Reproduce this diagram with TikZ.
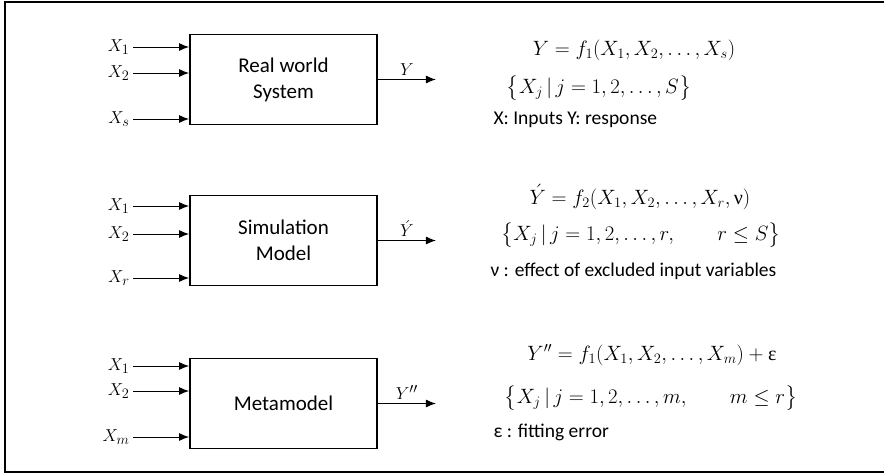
\documentclass[tikz,border=0pt]{standalone}
\usepackage{amsmath}
\usepackage[no-math]{fontspec}
\setmainfont{Carlito}
\newfontfamily\grkfont{Liberation Serif}
\usetikzlibrary{arrows.meta,positioning}
\newcommand{\grkv}{\text{\grkfont ν}}
\newcommand{\grke}{\text{\grkfont ε}}
\tikzset{
	sysbox/.style={draw, line width=1.8pt, minimum width=187pt, minimum height=90pt, align=center, font=\fontsize{21}{26}\selectfont},
	inlab/.style={anchor=east, inner sep=3pt, font=\fontsize{19}{22}\selectfont},
	eqn/.style={font=\fontsize{20}{24}\selectfont},
	note/.style={anchor=west, inner sep=0pt, font=\fontsize{19.5}{22}\selectfont},
}

\begin{document}
\begin{tikzpicture}[x=1pt, y=-1pt, >={Latex[length=10pt,width=8pt]}, line width=1pt]
		\clip (0,0) rectangle (884,474);
		%			\draw [help lines] (0,0) grid (884,474);
		\draw [line width=2.5pt] (890,2) -- (5,2) -- (5,472) -- (890,472);
		% the three blocks
		\node [sysbox] (real) at (283.5,79.5) {Real world\\System};
		\node [sysbox] (simu) at (283.5,240.5) {Simulation\\Model};
		\node [sysbox] (meta) at (283.5,403.5) {Metamodel};
		% inputs
		\node [inlab] (r1) at (133,47) {$X_1$};
		\node [inlab] (r2) at (133,73) {$X_2$};
		\node [inlab] (rs) at (133,119) {$X_s$};
		\node [inlab] (s1) at (133,206) {$X_1$};
		\node [inlab] (s2) at (133,234) {$X_2$};
		\node [inlab] (sr) at (133,278) {$X_r$};
		\node [inlab] (m1) at (133,366) {$X_1$};
		\node [inlab] (m2) at (133,391) {$X_2$};
		\node [inlab] (mm) at (133,437) {$X_m$};
		\draw [->] (r1) -- (r1 -| real.west);
		\draw [->] (r2) -- (r2 -| real.west);
		\draw [->] (rs) -- (rs -| real.west);
		\draw [->] (s1) -- (s1 -| simu.west);
		\draw [->] (s2) -- (s2 -| simu.west);
		\draw [->] (sr) -- (sr -| simu.west);
		\draw [->] (m1) -- (m1 -| meta.west);
		\draw [->] (m2) -- (m2 -| meta.west);
		\draw [->] (mm) -- (mm -| meta.west);
		% outputs
		\coordinate (ro) at ([xshift=58pt]real.east);
		\coordinate (so) at ([xshift=58pt]simu.east);
		\coordinate (mo) at ([xshift=58pt]meta.east);
		\draw [->] (real) -- (ro) node [pos=0.5, above, font=\fontsize{19}{22}\selectfont] {$Y$};
		\draw [->] (simu) -- (so) node [pos=0.5, above, font=\fontsize{19}{22}\selectfont] {$\acute{Y}$};
		\draw [->] (meta) -- (mo) node [pos=0.5, above, font=\fontsize{19}{22}\selectfont] {$Y''$};
		% relations
		\node [eqn] (eq1) at (634,50) {$Y = f_1(X_1, X_2, \ldots, X_s)$};
		\node [eqn] (set1) at (599,88) {$\bigl\{X_j \,|\, j = 1, 2, \ldots, S\bigr\}$};
		\node [note] (n1) at (493,120) {X: Inputs Y: response};
		\node [eqn] (eq2) at (640,197) {$\acute{Y} = f_2(X_1, X_2, \ldots, X_r, \grkv)$};
		\node [eqn] (set2) at (641,235) {$\bigl\{X_j \,|\, j = 1, 2, \ldots, r, \qquad r \leq S\bigr\}$};
		\node [note] (n2) at (490,271) {ν : effect of excluded input variables};
		\node [eqn] (eq3) at (652,355) {$Y'' = f_1(X_1, X_2, \ldots, X_m) + \grke$};
		\node [eqn] (set3) at (651,398) {$\bigl\{X_j \,|\, j = 1, 2, \ldots, m, \qquad m \leq r\bigr\}$};
		\node [note] (n3) at (493,432) {ε : fitting error};
	\end{tikzpicture}
\end{document}
